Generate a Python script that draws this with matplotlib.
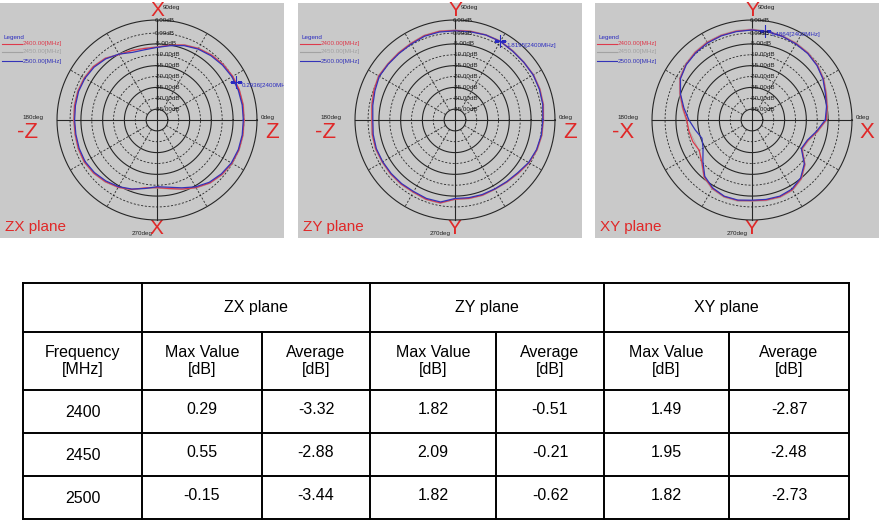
import numpy as np
import matplotlib
matplotlib.use("Agg")
import matplotlib.pyplot as plt

plt.rcParams['font.family'] = ['Liberation Sans', 'DejaVu Sans']

W, H = 880, 526

# measured angles (deg) for the radiation patterns
angles = list(range(0, 360, 10))

# ZX plane, gain in dB
zx_2400 = [0.0, 0.2, 0.3, 0.2, -0.3, -1.0, -2.0, -3.3, -5.0, -6.5, -6.6, -6.0,
           -5.2, -3.0, -1.8, -1.4, -1.3, -1.5, -1.8, -1.8, -1.5, -1.4, -2.0, -3.0,
           -4.3, -6.0, -8.3, -8.9, -8.0, -6.2, -4.1, -2.2, -1.0, -0.2, 0.1, 0.1]
zx_2450 = [0.3, 0.5, 0.5, 0.4, 0.0, -0.7, -1.7, -3.0, -4.7, -6.2, -6.3, -5.7,
           -4.9, -2.7, -1.5, -1.1, -1.0, -1.2, -1.5, -1.5, -1.2, -1.1, -1.7, -2.7,
           -4.0, -5.7, -8.0, -8.6, -7.7, -5.9, -3.8, -1.9, -0.7, 0.1, 0.4, 0.4]
zx_2500 = [-0.3, -0.2, -0.2, -0.2, -0.7, -1.4, -2.3, -3.6, -5.3, -6.6, -7.2, -6.9,
           -5.0, -3.3, -2.2, -1.7, -1.6, -1.9, -2.1, -2.1, -1.9, -1.8, -2.4, -3.4,
           -4.6, -6.2, -8.0, -9.3, -8.6, -6.8, -4.5, -2.6, -1.4, -0.5, -0.2, -0.2]

# ZY plane
zy_2400 = [0.6, 1.2, 1.5, 1.6, 1.3, 1.4, 1.8, 1.6, 1.4, 1.2, 1.4, 1.3,
           0.6, 0.3, 0.2, 0.5, -0.3, -1.2, -1.8, -1.4, -1.2, -1.4, -1.4, -1.5,
           -1.7, -1.2, -1.3, -3.6, -3.4, -3.2, -3.3, -2.8, -2.0, -0.7, 0.1, 0.5]
zy_2450 = [0.9, 1.5, 1.8, 1.9, 1.6, 1.7, 2.1, 1.9, 1.7, 1.5, 1.7, 1.6,
           0.9, 0.6, 0.5, 0.8, 0.0, -0.9, -1.5, -1.1, -0.9, -1.1, -1.1, -1.2,
           -1.4, -0.9, -1.0, -3.3, -3.1, -2.9, -3.0, -2.5, -1.7, -0.4, 0.4, 0.8]
zy_2500 = [0.4, 1.0, 1.3, 1.5, 1.3, 1.3, 1.7, 1.6, 1.2, 1.0, 1.1, 1.0,
           0.3, 0.0, 0.0, 0.2, -0.8, -1.6, -2.2, -1.8, -1.5, -1.6, -1.7, -1.8,
           -2.0, -1.6, -1.7, -3.9, -3.7, -3.5, -3.4, -3.0, -2.3, -0.9, -0.1, 0.3]

# XY plane
xy_2400 = [-5.9, -4.9, -3.8, -2.1, -0.8, 0.1, 0.6, 1.0, 1.3, 1.5, 1.5, 1.4,
           1.2, 0.6, -0.3, -1.8, -4.8, -7.7, -10.0, -10.5, -11.0, -12.0, -9.9, -5.8,
           -3.6, -2.5, -2.4, -2.9, -2.6, -2.4, -2.9, -4.8, -8.3, -13.5, -12.6, -9.5]
xy_2450 = [-5.5, -4.5, -3.4, -1.7, -0.4, 0.5, 1.0, 1.4, 1.7, 1.9, 1.9, 1.8,
           1.6, 1.0, 0.1, -1.4, -4.4, -7.3, -9.6, -10.8, -11.8, -11.9, -9.5, -5.4,
           -3.2, -2.1, -2.0, -2.5, -2.2, -2.0, -2.5, -4.4, -7.9, -13.1, -12.2, -9.1]
xy_2500 = [-6.3, -5.2, -4.1, -2.3, -1.0, -0.1, 0.4, 0.9, 1.2, 1.4, 1.3, 1.2,
           0.9, 0.3, -0.5, -2.0, -5.0, -8.2, -11.0, -13.5, -15.5, -14.0, -10.5, -6.2,
           -3.9, -2.7, -2.6, -3.1, -2.9, -2.7, -3.3, -5.2, -8.6, -13.8, -12.9, -9.9]

freq_labels = ['2400.00[MHz]', '2450.00[MHz]', '2500.00[MHz]']
trace_colors = ['#dd3a4c', '#a2a2a2', '#3434b8']

ring_db = [6, 0, -5, -10, -15, -20, -25, -30, -35]
ring_labels = ['6.00dB', '0.00dB', '-5.00dB', '-10.00dB', '-15.00dB',
               '-20.00dB', '-25.00dB', '-30.00dB', '-35.00dB']
solid_rings = [6, -5, -15, -25, -35]

# table data
planes = ['ZX plane', 'ZY plane', 'XY plane']
freqs = [2400, 2450, 2500]
zx_max = [0.29, 0.55, -0.15]
zx_avg = [-3.32, -2.88, -3.44]
zy_max = [1.82, 2.09, 1.82]
zy_avg = [-0.51, -0.21, -0.62]
xy_max = [1.49, 1.95, 1.82]
xy_avg = [-2.87, -2.48, -2.73]

panels = [
    dict(left=0, name='ZX plane', top='X', bottom='X', lft='-Z', rgt='Z',
         traces=[zx_2400, zx_2450, zx_2500], mark=(26, 0.29, '0.2936[2400MHz]')),
    dict(left=298, name='ZY plane', top='Y', bottom='Y', lft='-Z', rgt='Z',
         traces=[zy_2400, zy_2450, zy_2500], mark=(60, 1.82, '1.8195[2400MHz]')),
    dict(left=595, name='XY plane', top='Y', bottom='Y', lft='-X', rgt='X',
         traces=[xy_2400, xy_2450, xy_2500], mark=(82, 1.49, '1.4864[2400MHz]')),
]

RED = '#e02828'
BLUE = '#2a2ac0'
GRID = '#262626'


def box(x, y, w, h):
    return [x / W, 1 - (y + h) / H, w / W, h / H]


fig = plt.figure(figsize=(W / 100, H / 100), dpi=100)
fig.patch.set_facecolor('white')

for p in panels:
    pl = p['left']
    # gray background of the measurement screenshot
    bg = fig.add_axes(box(pl, 3, 284, 235))
    bg.set_facecolor('#c9c9c9')
    bg.set_xlim(0, 284)
    bg.set_ylim(235, 0)
    bg.set_xticks([])
    bg.set_yticks([])
    for s in bg.spines.values():
        s.set_visible(False)

    def t(x, y, s, **kw):
        bg.text(x, y - 3, s, **kw)

    t(268, 117, '0deg', fontsize=4.5, ha='center', va='center', color='#202020')
    t(33, 117, '180deg', fontsize=4.5, ha='center', va='center', color='#202020')
    t(163, 7, '90deg', fontsize=4.5, ha='left', va='center', color='#202020')
    t(142, 234, '270deg', fontsize=4.5, ha='center', va='center', color='#202020')
    t(157, 11, p['top'], fontsize=15, ha='center', va='center', color=RED, zorder=5)
    t(156, 229, p['bottom'], fontsize=15, ha='center', va='center', color=RED, zorder=5)
    t(28, 132, p['lft'], fontsize=16, ha='center', va='center', color=RED)
    t(272, 132, p['rgt'], fontsize=16, ha='center', va='center', color=RED)
    t(5, 227, p['name'], fontsize=11, ha='left', va='center', color=RED)

    # legend block
    t(3, 38, 'Legend', fontsize=4.5, ha='left', va='center', color=BLUE)
    for i, (lab, col) in enumerate(zip(freq_labels, trace_colors)):
        y = [44, 52, 61][i] - 3
        bg.plot([2, 22], [y, y], color=col, lw=0.8)
        bg.text(23, y, lab, fontsize=4.5, ha='left', va='center', color=col)

    # polar pattern
    ax = fig.add_axes(box(pl + 57, 20, 200, 200), projection='polar')
    ax.set_theta_zero_location('E')
    ax.set_ylim(-40, 6)
    ax.set_facecolor('none')
    ax.grid(False)
    ax.set_xticks([])
    ax.set_yticks([])
    ax.spines['polar'].set_visible(False)

    full = np.linspace(0, 2 * np.pi, 361)
    for db in ring_db:
        if db in solid_rings:
            ax.plot(full, np.full_like(full, db), color=GRID, lw=0.8, clip_on=False)
        else:
            ax.plot(full, np.full_like(full, db), color=GRID, lw=0.6,
                    ls=(0, (2.5, 2)), clip_on=False)
    for a in range(0, 360, 30):
        th = np.radians(a)
        if a % 90 == 0:
            ax.plot([th, th], [-40, 6], color=GRID, lw=0.8, clip_on=False)
        else:
            ax.plot([th, th], [-35, 6], color=GRID, lw=0.6, ls=(0, (2.5, 2)), clip_on=False)

    for db, lab in zip(ring_db, ring_labels):
        ax.annotate(lab, xy=(np.pi / 2, db), xytext=(-1.5, 0), textcoords='offset points',
                    fontsize=4.5, ha='left', va='center', color='#1a1a1a')

    th = np.radians(angles + [angles[0]])
    for k in [1, 0, 2]:
        vals = p['traces'][k]
        ax.plot(th, vals + [vals[0]], color=trace_colors[k], lw=[0.9, 0.5, 0.9][k])

    ma, mv, mlab = p['mark']
    ax.plot(np.radians(ma), mv, marker='+', ms=9, mew=0.8, color=BLUE)
    ann = ax.annotate(mlab, xy=(np.radians(ma), mv), xytext=(4, -3),
                      textcoords='offset points', fontsize=4.5, color=BLUE,
                      ha='left', va='center')
    ann.set_clip_on(True)
    ann.set_clip_box(bg.bbox)

# table
tb = fig.add_axes(box(0, 0, W, H), zorder=-1)
tb.set_xlim(0, W)
tb.set_ylim(H, 0)
tb.axis('off')

cols = [23, 142, 262, 370, 496, 604, 729, 849]
rows = [283, 332, 390, 433, 476, 519]
lw = 1.4
for y in rows:
    tb.plot([cols[0], cols[-1]], [y, y], color='black', lw=lw)
for i, x in enumerate(cols):
    if i in (2, 4, 6):
        tb.plot([x, x], [rows[1], rows[-1]], color='black', lw=lw)
    else:
        tb.plot([x, x], [rows[0], rows[-1]], color='black', lw=lw)

fs = 11.5
ymid = [(rows[i] + rows[i + 1]) / 2 for i in range(len(rows) - 1)]
for j, name in enumerate(planes):
    x0, x1 = cols[1 + 2 * j], cols[3 + 2 * j]
    tb.text((x0 + x1) / 2, ymid[0], name, fontsize=fs, ha='center', va='center')
tb.text((cols[0] + cols[1]) / 2, ymid[1], 'Frequency\n[MHz]', fontsize=fs,
        ha='center', va='center', linespacing=1.1)
for j in range(6):
    lab = 'Max Value\n[dB]' if j % 2 == 0 else 'Average\n[dB]'
    tb.text((cols[1 + j] + cols[2 + j]) / 2, ymid[1], lab, fontsize=fs,
            ha='center', va='center', linespacing=1.1)

columns = [zx_max, zx_avg, zy_max, zy_avg, xy_max, xy_avg]
for i, f in enumerate(freqs):
    y = ymid[2 + i]
    tb.text((cols[0] + cols[1]) / 2, y + 1, str(f), fontsize=fs, ha='center', va='center')
    for j, col in enumerate(columns):
        tb.text((cols[1 + j] + cols[2 + j]) / 2, y - 2, f'{col[i]:.2f}', fontsize=fs,
                ha='center', va='center')

fig.savefig('out.png', dpi=100)
